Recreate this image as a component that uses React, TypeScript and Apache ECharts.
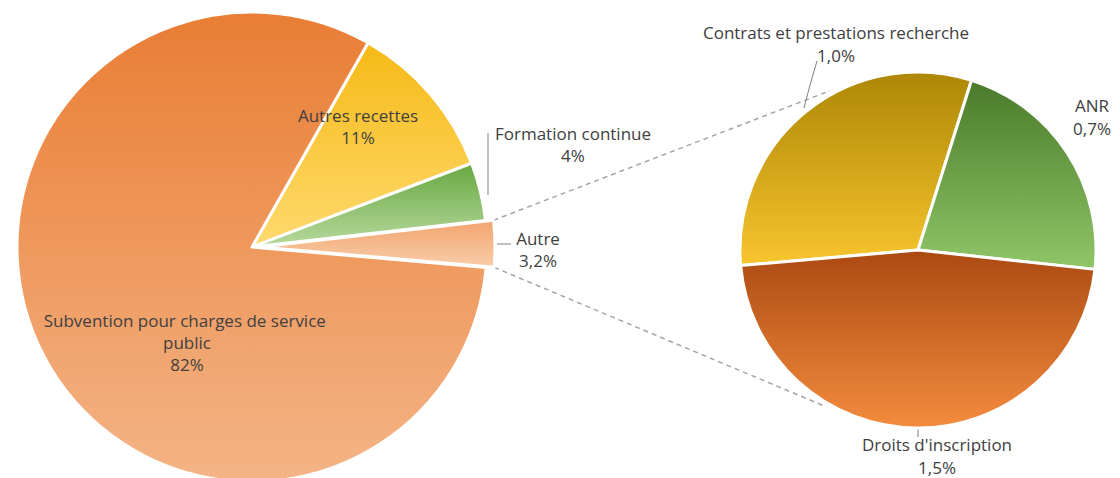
import React, { useEffect, useRef } from 'react';
import * as echarts from 'echarts';

// ---- Data ----
const mainCategories = [
  'Autres recettes',
  'Formation continue',
  'Autre',
  'Subvention pour charges de service public',
];
const mainValues = [11, 4, 3.2, 82];
const explodedCategory = 'Autre';

const detailCategories = ['Contrats et prestations recherche', 'ANR', "Droits d'inscription"];
const detailValues = [1.0, 0.7, 1.5];

// ---- Styles / layout ----
const mainGradients = [
  ['#F6BA16', '#FED96E'],
  ['#68A842', '#B7D99D'],
  ['#F2A46E', '#F9CDAA'],
  ['#E97D34', '#F4B486'],
];
const detailGradients = [
  ['#AD8706', '#F7C52E'],
  ['#4A7A2A', '#90C668'],
  ['#AB4912', '#F48C3E'],
];

const MAIN = { cx: 252, cy: 247, r: 235, start: 60.4, offset: 8 };
const DETAIL = { cx: 918, cy: 250, r: 178, start: 185 };

const mainLabelPos: [number, number][] = [
  [358, 126],
  [573, 144],
  [538, 249],
  [187, 342],
];
const mainLabelLines: ([number, number][] | null)[] = [
  null,
  [[488, 195], [488, 165], [488, 133]],
  [[497, 244], [504, 244], [511, 244]],
  null,
];
const detailLabelPos: [number, number][] = [
  [836, 44],
  [1092, 117],
  [937, 456],
];
const detailLabelLines: ([number, number][] | null)[] = [
  [[804, 108], [810, 85], [817, 61]],
  null,
  [[918, 423], [918, 430], [918, 437]],
];

const TEXT = '#404040';
const FONT = "'Open Sans', sans-serif";
const FS = 17;
const TRANSPARENT = 'rgba(0,0,0,0)';

const grad = (c: string[]) =>
  new echarts.graphic.LinearGradient(0, 0, 0, 1, [
    { offset: 0, color: c[0] },
    { offset: 1, color: c[1] },
  ]);

const fmtMain = (v: number) =>
  Number.isInteger(v) ? `${v}%` : `${v.toFixed(1).replace('.', ',')}%`;
const fmtDetail = (v: number) => `${v.toFixed(1).replace('.', ',')}%`;

export default function App() {
  const ref = useRef<HTMLDivElement>(null);

  useEffect(() => {
    if (!ref.current) return;
    const chart = echarts.init(ref.current, undefined, { renderer: 'svg' });

    const mainTotal = mainValues.reduce((a, b) => a + b, 0);
    const exIdx = mainCategories.indexOf(explodedCategory);
    const before = mainValues.slice(0, exIdx).reduce((a, b) => a + b, 0);
    const a1 = MAIN.start - (before / mainTotal) * 360;
    const a2 = a1 - (mainValues[exIdx] / mainTotal) * 360;
    const mid = ((a1 + a2) / 2) * (Math.PI / 180);
    const ox = MAIN.cx + MAIN.offset * Math.cos(mid);
    const oy = MAIN.cy - MAIN.offset * Math.sin(mid);
    const p = (cx: number, cy: number, r: number, deg: number) => [
      cx + r * Math.cos((deg * Math.PI) / 180),
      cy - r * Math.sin((deg * Math.PI) / 180),
    ];
    const l1 = p(ox, oy, MAIN.r, a1);
    const l2 = p(ox, oy, MAIN.r, a2);
    const r1 = p(DETAIL.cx, DETAIL.cy, DETAIL.r + 4, 119);
    const r2 = p(DETAIL.cx, DETAIL.cy, DETAIL.r + 4, -121);

    const connStyle = { stroke: '#A6A6A6', lineWidth: 1.5, lineDash: [5, 4] };

    chart.setOption({
      animation: false,
      backgroundColor: '#ffffff',
      textStyle: { fontFamily: FONT },
      graphic: [
        { type: 'line', silent: true, shape: { x1: l1[0], y1: l1[1], x2: r1[0], y2: r1[1] }, style: connStyle },
        { type: 'line', silent: true, shape: { x1: l2[0], y1: l2[1], x2: r2[0], y2: r2[1] }, style: connStyle },
      ],
      series: [
        // main pie (exploded slice left empty here, labels for all)
        {
          type: 'pie',
          silent: true,
          center: [MAIN.cx, MAIN.cy],
          radius: MAIN.r,
          startAngle: MAIN.start,
          clockwise: true,
          avoidLabelOverlap: false,
          itemStyle: { borderColor: '#ffffff', borderWidth: 3 },
          label: {
            color: TEXT,
            fontFamily: FONT,
            fontSize: FS,
            lineHeight: 22,
            align: 'center',
            formatter: (pa: any) => `${pa.name}\n${fmtMain(pa.value)}`,
          },
          labelLine: { lineStyle: { color: '#7F7F7F', width: 1 } },
          labelLayout: (pa: any) => {
            const i = pa.dataIndex;
            const o: any = {
              x: mainLabelPos[i][0],
              y: mainLabelPos[i][1],
              align: 'center',
              verticalAlign: 'middle',
            };
            if (mainLabelLines[i]) o.labelLinePoints = mainLabelLines[i];
            return o;
          },
          data: mainCategories.map((name, i) => {
            const outside = !!mainLabelLines[i];
            const ex = i === exIdx;
            return {
              name,
              value: mainValues[i],
              itemStyle: ex
                ? { color: TRANSPARENT, borderWidth: 0 }
                : { color: grad(mainGradients[i]) },
              label: {
                position: outside ? 'outside' : 'inside',
                width: i === 3 ? 300 : undefined,
                overflow: i === 3 ? 'break' : undefined,
              },
              labelLine: { show: outside, length: 10, length2: 10 },
            };
          }),
        },
        // exploded slice, drawn with a shifted centre
        {
          type: 'pie',
          silent: true,
          center: [ox, oy],
          radius: MAIN.r,
          startAngle: MAIN.start,
          clockwise: true,
          avoidLabelOverlap: false,
          label: { show: false },
          labelLine: { show: false },
          data: mainCategories.map((name, i) => ({
            name,
            value: mainValues[i],
            itemStyle:
              i === exIdx
                ? { color: grad(mainGradients[i]), borderColor: '#ffffff', borderWidth: 3 }
                : { color: TRANSPARENT, borderWidth: 0 },
          })),
        },
        {
          type: 'pie',
          silent: true,
          center: [DETAIL.cx, DETAIL.cy],
          radius: DETAIL.r,
          startAngle: DETAIL.start,
          clockwise: true,
          avoidLabelOverlap: false,
          itemStyle: { borderColor: '#ffffff', borderWidth: 3 },
          label: {
            position: 'outside',
            color: TEXT,
            fontFamily: FONT,
            fontSize: FS,
            lineHeight: 23,
            align: 'center',
            formatter: (pa: any) => `${pa.name}\n${fmtDetail(pa.value)}`,
          },
          labelLine: { lineStyle: { color: '#7F7F7F', width: 1 } },
          labelLayout: (pa: any) => {
            const i = pa.dataIndex;
            const o: any = {
              x: detailLabelPos[i][0],
              y: detailLabelPos[i][1],
              align: 'center',
              verticalAlign: 'middle',
            };
            if (detailLabelLines[i]) o.labelLinePoints = detailLabelLines[i];
            return o;
          },
          data: detailCategories.map((name, i) => ({
            name,
            value: detailValues[i],
            itemStyle: { color: grad(detailGradients[i]) },
            labelLine: { show: !!detailLabelLines[i], length: 10, length2: 10 },
          })),
        },
      ],
    });

    return () => chart.dispose();
  }, []);

  return (
    <div
      ref={ref}
      style={{ position: 'absolute', left: 0, top: 0, width: 1120, height: 478 }}
    />
  );
}
